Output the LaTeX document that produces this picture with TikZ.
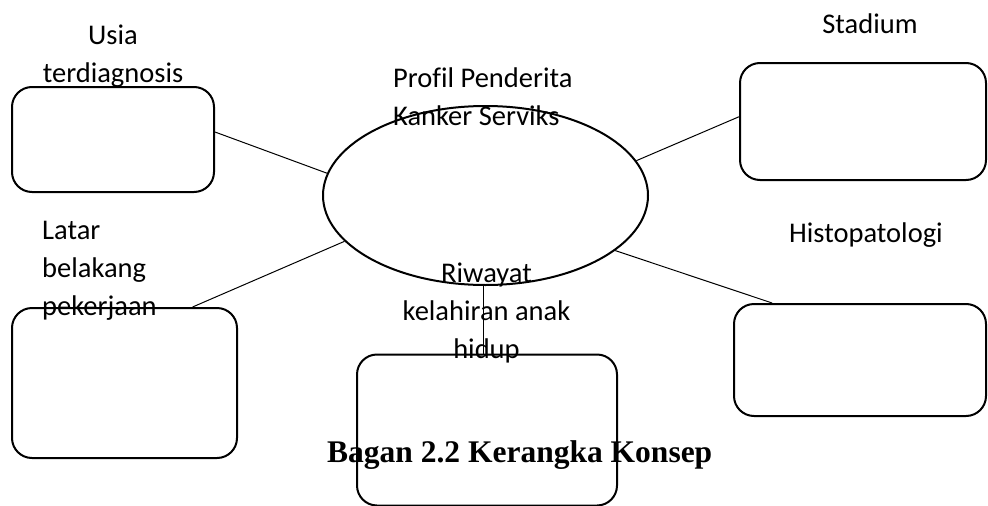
\documentclass[tikz,border=0pt]{standalone}
\usepackage{fontspec}
\setmainfont{Carlito}[Ligatures=NoCommon]
\newfontfamily\capfont{Liberation Serif}
\usetikzlibrary{shapes.geometric,calc}
\begin{document}
\begin{tikzpicture}[x=1pt,y=-1pt,
  box/.style={draw, line width=2pt, rounded corners=20pt, inner sep=0pt},
  link/.style={line width=1pt},
  lbl/.style={inner sep=0pt, font=\fontsize{28.5}{38}\selectfont},
  captext/.style={inner sep=0pt, font=\capfont\bfseries\fontsize{31.5}{36}\selectfont}]
\useasboundingbox (0,0) rectangle (988,506);
% boxes
\node[box, minimum width=202pt, minimum height=105pt] (usia) at (113,139.5) {};
\node[box, minimum width=225pt, minimum height=150pt] (latar) at (124.5,383) {};
\node[box, minimum width=246pt, minimum height=117pt] (stad) at (863,121.5) {};
\node[box, minimum width=252pt, minimum height=112pt] (histo) at (860,360) {};
\node[box, minimum width=260pt, minimum height=151pt] (riw) at (487,430) {};
% centre ellipse
\node[draw, ellipse, line width=2pt, inner sep=0pt, minimum width=325pt, minimum height=179pt] (ell) at (485.5,195.5) {};
% connectors
\coordinate (riwtop) at ($(riw.north west)!0.485!(riw.north east)$);
\draw[link] ($(usia.north east)!0.43!(usia.south east)$) -- (ell.172);
\draw[link] ($(latar.north west)!0.8!(latar.north east)$) -- (ell.198);
\draw[link] ($(stad.north west)!0.46!(stad.south west)$) -- (ell.13);
\draw[link] ($(histo.north west)!0.154!(histo.north east)$) -- (ell.337);
\draw[link] (ell.south -| riwtop) -- (riwtop);
% labels (base anchor = baseline of last line)
\node[lbl, anchor=base, align=center] (tusia) at (113,82) {Usia\\terdiagnosis};
\node[lbl, anchor=base west, align=left] (tprof) at (393,125) {Profil Penderita\\Kanker Serviks};
\node[lbl, anchor=base] (tstad) at (870,33) {Stadium};
\node[lbl, anchor=base] (thisto) at (866,242) {Histopatologi};
\node[lbl, anchor=base west, align=left] (tlatar) at (42,315) {Latar\\belakang\\pekerjaan};
\node[lbl, anchor=base, align=center] (triw) at (486.5,358) {Riwayat\\kelahiran anak\\hidup};
\node[captext, anchor=base west] (tcap) at (327,462) {Bagan 2.2 Kerangka Konsep};
\end{tikzpicture}
\end{document}
